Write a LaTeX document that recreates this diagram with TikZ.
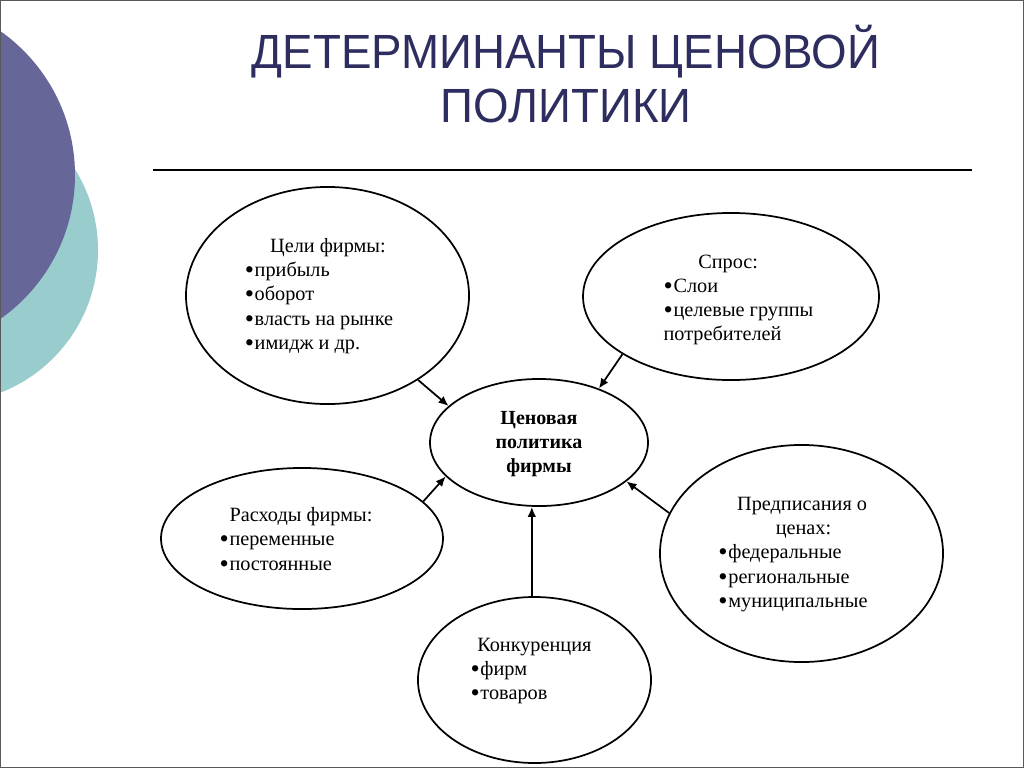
\documentclass[tikz,border=0pt]{standalone}
\usepackage{fontspec}
\setmainfont{Liberation Serif}
\newfontfamily\titlefont{Liberation Sans}
\usetikzlibrary{shapes.geometric,arrows.meta,calc}
\definecolor{decopurple}{RGB}{102,102,153}
\definecolor{decoteal}{RGB}{153,204,204}
\definecolor{titleblue}{RGB}{45,45,95}
\definecolor{framegray}{RGB}{90,90,90}
\newcommand{\bul}{\smash{\raisebox{-0.2ex}{\scalebox{1.3}{•}}}\hspace{0.5pt}}
\newcommand{\ttlbox}[1]{\scalebox{0.952}[1]{#1}}
\begin{document}
\begin{tikzpicture}[x=0.75pt,y=-0.75pt,
  oval/.style={ellipse,draw=black,line width=1.3pt,inner sep=0pt},
  txt/.style={align=left,font=\fontsize{15.2pt}{18.2pt}\selectfont,inner sep=0pt},
  ctxt/.style={align=center,font=\fontsize{15pt}{18.2pt}\selectfont\bfseries,inner sep=0pt},
  ttl/.style={font=\titlefont\fontsize{36pt}{40pt}\selectfont,text=titleblue,anchor=base,inner sep=0pt},
  arr/.style={line width=1.3pt,-{Latex[length=7.5pt,width=6.5pt]}}]
\useasboundingbox (0,0) rectangle (1024,768);
\fill[white] (0,0) rectangle (1024,768);
\begin{scope}
  \clip (0,0) rectangle (1024,768);
  \fill[decoteal] (-55,250) circle (153);
  \fill[decopurple] (-101,175) circle (176);
\end{scope}
\draw[framegray,line width=1.2pt] (0.6,0.6) rectangle (1023.4,767.4);

\node[ttl] (title1) at (566,68) {\ttlbox{ДЕТЕРМИНАНТЫ ЦЕНОВОЙ}};
\node[ttl] (title2) at (566,122) {\ttlbox{ПОЛИТИКИ}};
\draw[line width=1.1pt] (153,170) -- (972,170);

\node[oval,minimum width=212.3pt,minimum height=162.8pt] (e1) at (327.5,295.5) {};
\node[oval,minimum width=222pt,minimum height=125.3pt] (e2) at (731,296.5) {};
\node[oval,minimum width=163.5pt,minimum height=95.3pt] (c) at (539,442.5) {};
\node[oval,minimum width=211.5pt,minimum height=105.8pt] (e4) at (302,538.5) {};
\node[oval,minimum width=212.3pt,minimum height=162.8pt] (e5) at (801.5,553.5) {};
\node[oval,minimum width=174.8pt,minimum height=124.5pt] (e6) at (534.5,680) {};

\node[txt] (t1) at (319,296) {\hspace*{19pt}Цели фирмы:\\\bul прибыль\\\bul оборот\\\bul власть на рынке\\\bul имидж и др.};
\node[txt] (t2) at (738.5,300) {\hspace*{26pt}Спрос:\\\bul Слои\\\bul целевые группы\\потребителей};
\node[ctxt] (tc) at (539,444) {Ценовая\\политика\\фирмы};
\node[txt] (t4) at (296,539) {\hspace*{7.5pt}Расходы фирмы:\\\bul переменные\\\bul постоянные};
\node[txt] (t5) at (793,554.5) {\hspace*{14pt}Предписания о\\\hspace*{43pt}ценах:\\\bul федеральные\\\bul региональные\\\bul муниципальные};
\node[txt] (t6) at (531,671) {\hspace*{5pt}Конкуренция\\\bul фирм\\\bul товаров};

\draw[arr] (e1.-43.4) -- (c.158);
\draw[arr] (e2.208.6) -- (c.42);
\draw[arr] (e4.17.2) -- (c.200);
\draw[arr] (e5.163) -- (c.-24.6);
\draw[arr] ([xshift=-2pt]e6.north) -- ([xshift=-2pt]e6.north |- c.south);
\end{tikzpicture}
\end{document}
